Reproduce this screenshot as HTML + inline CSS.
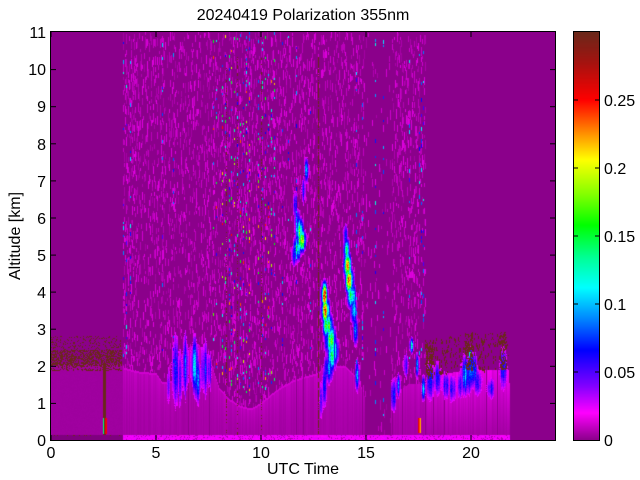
<!DOCTYPE html>
<html><head><meta charset="utf-8">
<style>
html,body{margin:0;padding:0;background:#fff;width:640px;height:480px;overflow:hidden;position:relative}
#cv{position:absolute;left:51px;top:32px}
#cb{position:absolute;left:574px;top:32px}
svg{position:absolute;left:0;top:0}
text{font-family:"Liberation Sans",Arial,sans-serif;font-size:16px;fill:#000}
</style></head><body>
<canvas id="cv" width="504" height="408"></canvas>
<canvas id="cb" width="25" height="408"></canvas>
<svg width="640" height="480" xmlns="http://www.w3.org/2000/svg">
<text x="303" y="20" text-anchor="middle">20240419 Polarization 355nm</text>
<rect x="50.5" y="31.5" width="505" height="409" fill="none" stroke="#000" stroke-width="1"/>
<rect x="573.5" y="31.5" width="26" height="409" fill="none" stroke="#000" stroke-width="1"/>
<g stroke="#000" stroke-width="1">
<line x1="51" y1="440" x2="51" y2="435"/><line x1="156" y1="440" x2="156" y2="435"/><line x1="261" y1="440" x2="261" y2="435"/><line x1="366" y1="440" x2="366" y2="435"/><line x1="471" y1="440" x2="471" y2="435"/>
<line x1="51" y1="32" x2="51" y2="37"/><line x1="156" y1="32" x2="156" y2="37"/><line x1="261" y1="32" x2="261" y2="37"/><line x1="366" y1="32" x2="366" y2="37"/><line x1="471" y1="32" x2="471" y2="37"/>
<line x1="51" y1="403.4" x2="56" y2="403.4"/><line x1="51" y1="366.3" x2="56" y2="366.3"/><line x1="51" y1="329.2" x2="56" y2="329.2"/><line x1="51" y1="292.1" x2="56" y2="292.1"/><line x1="51" y1="255.1" x2="56" y2="255.1"/><line x1="51" y1="218" x2="56" y2="218"/><line x1="51" y1="180.9" x2="56" y2="180.9"/><line x1="51" y1="143.8" x2="56" y2="143.8"/><line x1="51" y1="106.7" x2="56" y2="106.7"/><line x1="51" y1="69.6" x2="56" y2="69.6"/>
<line x1="555" y1="403.4" x2="550" y2="403.4"/><line x1="555" y1="366.3" x2="550" y2="366.3"/><line x1="555" y1="329.2" x2="550" y2="329.2"/><line x1="555" y1="292.1" x2="550" y2="292.1"/><line x1="555" y1="255.1" x2="550" y2="255.1"/><line x1="555" y1="218" x2="550" y2="218"/><line x1="555" y1="180.9" x2="550" y2="180.9"/><line x1="555" y1="143.8" x2="550" y2="143.8"/><line x1="555" y1="106.7" x2="550" y2="106.7"/><line x1="555" y1="69.6" x2="550" y2="69.6"/>
<line x1="574" y1="372" x2="578" y2="372"/><line x1="574" y1="304" x2="578" y2="304"/><line x1="574" y1="236" x2="578" y2="236"/><line x1="574" y1="168" x2="578" y2="168"/><line x1="574" y1="100" x2="578" y2="100"/>
<line x1="599" y1="372" x2="595" y2="372"/><line x1="599" y1="304" x2="595" y2="304"/><line x1="599" y1="236" x2="595" y2="236"/><line x1="599" y1="168" x2="595" y2="168"/><line x1="599" y1="100" x2="595" y2="100"/>
</g>
<g text-anchor="end">
<text x="46" y="446">0</text><text x="46" y="409">1</text><text x="46" y="372">2</text><text x="46" y="335">3</text><text x="46" y="298">4</text><text x="46" y="261">5</text><text x="46" y="224">6</text><text x="46" y="187">7</text><text x="46" y="150">8</text><text x="46" y="112">9</text><text x="46" y="75">10</text><text x="46" y="38">11</text>
</g>
<g text-anchor="middle">
<text x="51" y="458">0</text><text x="156" y="458">5</text><text x="261" y="458">10</text><text x="366" y="458">15</text><text x="471" y="458">20</text>
<text x="303" y="474">UTC Time</text>
<text transform="translate(20,236) rotate(-90)">Altitude [km]</text>
</g>
<text x="604" y="446">0</text><text x="604" y="378">0.05</text><text x="604" y="310">0.1</text><text x="604" y="242">0.15</text><text x="604" y="174">0.2</text><text x="604" y="106">0.25</text>
</svg>
<script>
(function(){
var W=504,H=408,V=new Float32Array(W*H);
var s=20240419;
function R(){s|=0;s=s+0x6D2B79F5|0;var t=Math.imul(s^s>>>15,1|s);t=t+Math.imul(t^t>>>7,61|t)^t;return((t^t>>>14)>>>0)/4294967296;}
function sv(x,y,v){x=Math.round(x);y=Math.round(y);if(x<0||y<0||x>=W||y>=H)return;V[y*W+x]=v;}
function mv(x,y,v){x=Math.round(x);y=Math.round(y);if(x<0||y<0||x>=W||y>=H)return;var i=y*W+x;if(v>V[i])V[i]=v;}
function Y(h){return H-37.09*h;}
var TT=[[0,2.05],[3.4,2.05],[3.45,1.95],[4.1,1.85],[5,1.8],[5.3,1.55],[5.8,1.6],[6,2.2],[6.5,2.5],[7,2.6],[7.6,2.1],[8,1.4],[8.5,1.1],[9,0.92],[9.5,0.85],[10,1.0],[10.5,1.25],[11,1.45],[11.5,1.6],[12,1.7],[12.7,1.8],[13,2.0],[14,2.0],[14.5,1.7],[14.9,1.3],[14.95,0],[16.15,0],[16.2,1.2],[17,1.5],[17.75,1.5],[17.8,1.7],[20,1.9],[21.8,1.9],[21.85,0],[24.1,0]];
function blTop(t){for(var i=1;i<TT.length;i++){if(t<=TT[i][0]){var a=TT[i-1],b=TT[i];return a[1]+(b[1]-a[1])*(t-a[0])/(b[0]-a[0]);}}return 0;}
function dens(t){if(t<3.4)return 0;if(t<4.1)return 0.55;if(t<7.5)return 0.3;if(t<12.5)return 0.32;if(t<14.9)return 0.28;if(t<16.2)return 0.06;if(t<17.85)return 0.3;return 0;}
var x,y,t,k;
// texture
for(x=0;x<W;x++){t=x/21;var d=dens(t);if(!d)continue;var yt=Y(Math.max(blTop(t),0.13));
 for(y=0;y<yt;){if(R()<d*0.16){var L=3+Math.floor(R()*8),v=0.004+R()*0.011;for(k=0;k<L&&y<yt;k++,y++)sv(x,y,v);}else y++;}}
// boundary layer
for(x=0;x<W;x++){t=x/21;var bt=blTop(t);if(bt<=0)continue;var y0=Math.round(Y(bt)),y1=Math.round(Y(0.13));var cf=0.8+R()*0.45;
 for(y=y0;y<y1;y++){var h=(H-y)/37.09,f=h/bt,v2;
  if(t<3.4)v2=0.0035*(0.9+R()*0.2);else if(t>=17.8)v2=(0.004+0.011*Math.pow(f,1.3))*cf;else v2=(0.0045+0.004*f*f)*cf;
  if(t>=3.4&&t<14.9&&y-y0<2)v2=0.012;
  sv(x,y,v2);}}
// brown speckles left
for(x=0;x<Math.round(3.4*21);x++){for(y=Math.round(Y(2.8));y<Math.round(Y(1.85));y++){var hh=(H-y)/37.09,p=hh<2.0?0.35:hh<2.45?0.6:0.18;if(R()<p)sv(x,y,0.3);}}
// brown speckles right
for(x=Math.round(17.8*21);x<Math.round(21.8*21);x++){t=x/21;var bt2=blTop(t);var boost=((x>=374&&x<=382)||(x>=414&&x<=421)||(x>=449&&x<=455))?3:0.7;
 for(y=Math.round(Y(bt2+1.0));y<Math.round(Y(bt2));y++){if(R()<0.1*boost){var L2=1+Math.floor(R()*4);for(k=0;k<L2;k++)sv(x,y+k,0.3);}}}
// bottom strip
for(x=0;x<W;x++){t=x/21;for(y=403;y<H;y++){if(t<3.4)sv(x,y,-0.004);else if(t<21.85)sv(x,y,R()<0.85?0.017+R()*0.008:0.006);}}
for(x=0;x<70;x++){if(R()<0.15)sv(x,403,0.3);}
// dark gap columns
[188,209,296,303,362,392,402,425,433,444,486,497].forEach(function(ix){var cx=ix-51;var bt3=blTop(cx/21);for(y=Math.round(Y(bt3+0.3));y<403;y++)sv(cx,y,0);});
// thin brown lines
[[318,0.75],[226,0.3],[261,0.3],[237,0.25]].forEach(function(a){var cx=a[0]-51;for(y=25;y<403;y++)if(R()<a[1])sv(cx,y,0.3);});
// colored speckle columns
var cols=[213,216,222,225,229,231,234,237,240,243,246,249,258,262,265,268,271,274];
cols.forEach(function(ix){var cx=ix-51,yt2=Y(blTop(cx/21)+0.3);for(y=0;y<yt2;y++){if(R()<0.055){var r=R(),v3=r<0.8?0.05+R()*0.11:0.17+R()*0.08,L3=2+Math.floor(R()*2);for(k=0;k<L3;k++)sv(cx,y+k,v3);y+=L3;}}});
var cols2=[123,126,130,162,173,282,288,296,310,356,362,375,383,409,419,421,423];
cols2.forEach(function(ix){var cx=ix-51,yt2=Y(blTop(cx/21)+0.3);for(y=0;y<yt2;y++){if(R()<0.035){var v3=0.05+R()*0.07,L3=2+Math.floor(R()*3);for(k=0;k<L3;k++)sv(cx,y+k,v3);y+=L3;}}});
// blobs
var cn=new Float32Array(W);for(x=0;x<W;x++)cn[x]=0.6+R()*0.55;
function blob(ix,iy,sx,sy,vm){var cx=ix-51,cy=iy-32;for(var xx=Math.floor(cx-3*sx);xx<=cx+3*sx;xx++)for(var yy=Math.floor(cy-3*sy);yy<=cy+3*sy;yy++){var dx=(xx-cx)/sx,dy=(yy-cy)/sy;var v=vm*Math.exp(-0.5*(dx*dx+dy*dy))*cn[xx<0?0:xx>=W?W-1:xx]*(0.85+0.3*R());if(v>0.022)mv(xx,yy,v);}}
[
[175,370,2.5,25,0.075],[180,378,2,22,0.06],[185,365,2.5,22,0.075],[194,365,2.5,18,0.105],[197,380,2,15,0.09],[204,368,2.5,20,0.075],[209,370,2,15,0.06],[168,385,1.5,15,0.04],
[294,255,2,8,0.08],[297,248,2.5,8,0.16],[301,240,2.5,7,0.26],[299,230,2.5,8,0.2],[297,220,2,8,0.1],[295,205,1.5,10,0.08],[303,190,1.5,10,0.07],[306,170,1.5,8,0.1],
[324,295,2,8,0.27],[325,310,2.5,8,0.26],[327,325,3,8,0.2],[330,340,3.5,10,0.17],[331,355,3,10,0.14],[328,368,3,10,0.1],[324,385,2,15,0.07],[335,350,2.5,10,0.1],[321,400,1.5,15,0.06],
[345,235,1.5,8,0.08],[346,250,2,8,0.14],[347,265,2.5,8,0.22],[349,280,2.5,8,0.25],[351,295,2.5,8,0.18],[353,310,2,10,0.12],[355,330,2,10,0.08],[357,375,1.5,10,0.1],
[393,395,2,12,0.07],[398,385,1.5,8,0.1],[405,365,2,10,0.065],[411,345,1.2,5,0.13],[417,365,1.2,8,0.11],[423,388,1.2,8,0.12],
[430,380,3,14,0.07],[437,378,3,12,0.075],[445,385,3,10,0.065],[452,388,3,10,0.06],[460,385,3,10,0.06],[466,375,4,13,0.1],[472,370,3,12,0.115],[470,355,1.2,5,0.15],[478,382,3,10,0.07],[490,388,3,8,0.065],[503,368,2.5,15,0.075]
].forEach(function(b){blob(b[0],b[1],b[2],b[3],b[4]);});
// specific features
for(y=363;y<435;y++){sv(103-51,y-32,0.3);sv(104-51,y-32,0.3);sv(105-51,y-32,0.3);}
for(y=418;y<434;y++){sv(105-51,y-32,0.26);sv(106-51,y-32,0.25);sv(103-51,y-32,0.14);}
for(y=418;y<433;y++){sv(418-51,y-32,0.26);sv(419-51,y-32,0.24);sv(420-51,y-32,0.22);}
// colormap
var st=[[-0.01,[110,0,110]],[0,[139,0,139]],[0.02,[255,0,255]],[0.04,[128,0,255]],[0.066,[0,0,255]],[0.088,[0,128,255]],[0.112,[0,255,255]],[0.134,[0,255,150]],[0.158,[0,255,0]],[0.18,[128,255,0]],[0.206,[255,255,0]],[0.228,[255,128,0]],[0.25,[255,0,0]],[0.279,[160,20,16]],[0.3,[106,40,26]]];
function cm(v){if(v<=st[0][0])return st[0][1];for(var i=1;i<st.length;i++){if(v<=st[i][0]){var a=st[i-1],b=st[i],f=(v-a[0])/(b[0]-a[0]);return[a[1][0]+(b[1][0]-a[1][0])*f,a[1][1]+(b[1][1]-a[1][1])*f,a[1][2]+(b[1][2]-a[1][2])*f];}}return st[st.length-1][1];}
var g=document.getElementById('cv').getContext('2d');var im=g.createImageData(W,H),D=im.data;
for(var i=0;i<W*H;i++){var c=cm(V[i]);D[i*4]=c[0];D[i*4+1]=c[1];D[i*4+2]=c[2];D[i*4+3]=255;}
g.putImageData(im,0,0);
var g2=document.getElementById('cb').getContext('2d');var im2=g2.createImageData(25,408),D2=im2.data;
for(y=0;y<408;y++){var c2=cm((407.5-y)/408*0.3);for(x=0;x<25;x++){var j=(y*25+x)*4;D2[j]=c2[0];D2[j+1]=c2[1];D2[j+2]=c2[2];D2[j+3]=255;}}
g2.putImageData(im2,0,0);
})();
</script>
</body></html>
